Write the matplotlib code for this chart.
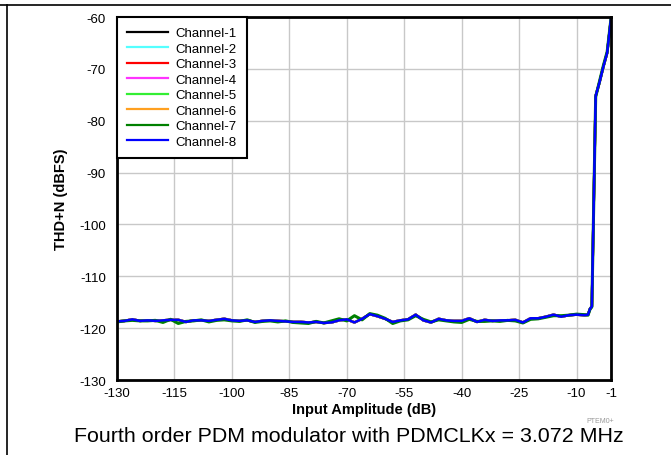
#!/usr/bin/env python3
"""
THD+N vs input amplitude, 8 PDM channels
"""

import matplotlib
matplotlib.use('Agg')
import matplotlib.pyplot as plt
from matplotlib.lines import Line2D

plt.rcParams['font.family'] = ['Liberation Sans', 'DejaVu Sans']
plt.rcParams['axes.unicode_minus'] = False

# Input amplitude (dB)
amplitude = [-130, -128, -126, -124, -122, -120, -118, -116, -114, -112,
             -110, -108, -106, -104, -102, -100, -98, -96, -94, -92,
             -90, -88, -86, -84, -82, -80, -78, -76, -74, -72,
             -70, -68, -66, -64, -62, -60, -58, -56, -54, -52,
             -50, -48, -46, -44, -42, -40, -38, -36, -34, -32,
             -30, -28, -26, -24, -22, -20, -18, -16, -14, -12,
             -10, -8, -7, -6.5, -6, -5, -4, -3, -2, -1]

# THD+N (dBFS), shared by channels 1-6 and 8 (they overlap)
thd_common = [-118.7, -118.6, -118.3, -118.6, -118.5, -118.6, -118.5, -118.4, -118.4, -118.8,
              -118.5, -118.5, -118.6, -118.4, -118.2, -118.5, -118.6, -118.5, -118.8, -118.6,
              -118.5, -118.6, -118.7, -118.8, -118.8, -118.9, -118.8, -119.0, -118.9, -118.5,
              -118.3, -118.9, -118.2, -117.3, -117.7, -118.2, -118.8, -118.5, -118.3, -117.4,
              -118.5, -118.9, -118.2, -118.5, -118.6, -118.6, -118.1, -118.8, -118.4, -118.6,
              -118.5, -118.5, -118.4, -118.9, -118.1, -118.1, -117.8, -117.4, -117.8, -117.5,
              -117.4, -117.5, -117.4, -116.3, -115.8, -75.2, -72.6, -69.6, -66.9, -60.3]

# Channel-7 shows a little more spread below the blue trace
thd_ch7 = [-118.8, -118.6, -118.5, -118.6, -118.6, -118.5, -118.9, -118.3, -119.1, -118.7,
           -118.6, -118.4, -118.8, -118.5, -118.4, -118.6, -118.7, -118.4, -118.9, -118.7,
           -118.6, -118.8, -118.6, -118.9, -119.0, -119.1, -118.7, -119.0, -118.6, -118.2,
           -118.6, -117.6, -118.4, -117.2, -117.5, -118.1, -119.1, -118.6, -118.4, -117.6,
           -118.3, -118.8, -118.4, -118.6, -118.8, -118.9, -118.3, -118.7, -118.7, -118.6,
           -118.7, -118.5, -118.6, -119.0, -118.3, -118.2, -117.9, -117.6, -117.6, -117.5,
           -117.3, -117.4, -117.5, -116.4, -115.9, -75.4, -72.4, -69.4, -66.7, -60.3]

channels = ['Channel-1', 'Channel-2', 'Channel-3', 'Channel-4',
            'Channel-5', 'Channel-6', 'Channel-7', 'Channel-8']
colors = ['black', '#55ffff', 'red', '#ff33ff', '#33ee33', '#ffa020', 'green', 'blue']

x_ticks = [-130, -115, -100, -85, -70, -55, -40, -25, -10, -1]
y_ticks = [-130, -120, -110, -100, -90, -80, -70, -60]


def create_plot():
    fig = plt.figure(figsize=(6.71, 4.56), dpi=100)
    ax = fig.add_axes([117 / 671, 1 - 381 / 456, 494 / 671, 363 / 456])

    for name, col in zip(channels, colors):
        data = thd_ch7 if name == 'Channel-7' else thd_common
        lw = 2.2 if name == 'Channel-7' else 1.8
        ax.plot(amplitude, data, color=col, lw=lw, label=name)

    ax.set_xlim(-130, -1)
    ax.set_ylim(-130, -60)
    ax.set_xticks(x_ticks)
    ax.set_yticks(y_ticks)
    ax.grid(True, color='#c8c8c8', lw=1.0)
    ax.set_axisbelow(True)
    ax.tick_params(axis='both', length=0, labelsize=9.5, colors='black')
    ax.tick_params(axis='y', pad=8)
    ax.tick_params(axis='x', pad=5)
    for sp in ax.spines.values():
        sp.set_linewidth(2)

    ax.set_xlabel('Input Amplitude (dB)', fontsize=10.5, fontweight='bold', labelpad=2)
    ax.set_ylabel('THD+N (dBFS)', fontsize=10.5, fontweight='bold', labelpad=8)

    leg = ax.legend(loc='upper left', borderaxespad=0, fontsize=9.5, handlelength=3.1,
                    handletextpad=0.6, labelspacing=0.25, borderpad=0.75,
                    fancybox=False, framealpha=1, edgecolor='black')
    leg.get_frame().set_linewidth(1.5)
    for h in leg.get_lines():
        h.set_linewidth(1.6)

    # small figure id and caption
    fig.text(600 / 671, 1 - 422 / 456, 'PTEM0+', fontsize=5, color='#999999', ha='center', va='center')
    fig.text(349 / 671, 1 - 437 / 456, 'Fourth order PDM modulator with PDMCLKx = 3.072 MHz',
             fontsize=15.4, ha='center', va='center')

    # page frame lines
    fig.add_artist(Line2D([0, 1], [1 - 6 / 456, 1 - 6 / 456], color='black', lw=1.2))
    fig.add_artist(Line2D([7 / 671, 7 / 671], [0, 1 - 6 / 456], color='black', lw=1.2))

    fig.savefig('out.png', dpi=100, facecolor='white')


if __name__ == "__main__":
    create_plot()
